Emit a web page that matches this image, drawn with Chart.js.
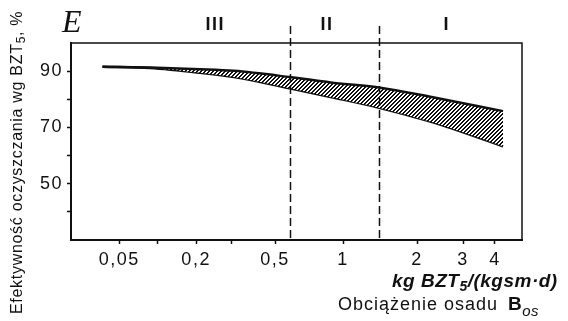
<!DOCTYPE html>
<html>
<head>
<meta charset="utf-8">
<script src="https://cdn.jsdelivr.net/npm/chart.js@4/dist/chart.umd.min.js"></script>
<style>
  html, body { margin: 0; padding: 0; background: #fff; }
  #wrap { width: 568px; height: 321px; position: relative; }
</style>
</head>
<body>
<div id="wrap"><canvas id="chart"></canvas></div>
<script>
// sludge load, kg BZT5 / (kg sm * d)
const loadKg = [0.037, 0.087, 0.21, 0.31, 0.58, 0.88, 1.4, 2.3, 4.3];
// efficiency band, %
const effUpper = [91.6, 91.3, 90.7, 90.1, 87.9, 86.0, 84.2, 80.7, 75.8];
const effLower = [91.6, 91.1, 89.4, 87.9, 83.9, 80.8, 77.0, 71.8, 63.3];

const xTickValues = [0.05, 0.2, 0.5, 1, 2, 3, 4];
const xTickLabels = ['0,05', '0,2', '0,5', '1', '2', '3', '4'];
const xMinorTicks = [0.1, 0.3];
const yTickValues = [50, 70, 90];
const yMinorTicks = [40, 60, 80];

const zoneBounds = [0.58, 1.4];
const zoneNames = ['III', 'II', 'I'];
const zoneLabelAt = [0.25, 0.85, 2.6];

const INK = '#111';
const SANS = '"Liberation Sans", Arial, sans-serif';

// the printed axis is not a true log axis: the labelled loads sit at
// these slots along it, log-linear in between (and beyond the ends)
const xSlots = [0, 77, 156, 224, 298, 344, 376];

class SlotLogScale extends Chart.Scale {
  static id = 'slotlog';
  static defaults = {};

  determineDataLimits() {
    this.min = this.options.min;
    this.max = this.options.max;
  }
  buildTicks() {
    return [...xTickValues, ...xMinorTicks].sort((a, b) => a - b).map(v => ({ value: v }));
  }
  getLabelForValue(v) {
    return String(v);
  }
  slot(v) {
    const a = xTickValues.map(Math.log10);
    const lv = Math.log10(v);
    let i = 0;
    while (i < a.length - 2 && lv > a[i + 1]) i++;
    const t = (lv - a[i]) / (a[i + 1] - a[i]);
    return xSlots[i] + t * (xSlots[i + 1] - xSlots[i]);
  }
  getPixelForValue(v) {
    const s0 = this.slot(this.min), s1 = this.slot(this.max);
    return this.getPixelForDecimal((this.slot(v) - s0) / (s1 - s0));
  }
  getPixelForTick(i) {
    return this.getPixelForValue(this.ticks[i].value);
  }
  getValueForPixel(px) {
    // bisection in log space, good enough for an axis that is only drawn
    let lo = Math.log10(this.min), hi = Math.log10(this.max);
    for (let k = 0; k < 40; k++) {
      const mid = (lo + hi) / 2;
      if (this.getPixelForValue(Math.pow(10, mid)) < px) lo = mid; else hi = mid;
    }
    return Math.pow(10, lo);
  }
}
Chart.register(SlotLogScale);

function hatch() {
  const c = document.createElement('canvas');
  c.width = 4; c.height = 4;
  const g = c.getContext('2d');
  g.fillStyle = '#fff';
  g.fillRect(0, 0, 4, 4);
  g.fillStyle = INK;
  for (let y = 0; y < 4; y++) {
    g.fillRect((3 - y + 4) % 4, y, 1, 1);
    g.fillRect((4 - y) % 4, y, 1, 1);
  }
  return g.createPattern(c, 'repeat');
}

// draws text pieces one after another: [text, font, dy]
function runs(ctx, parts, x, y, spacing) {
  ctx.letterSpacing = spacing || '0px';
  for (const [text, font, dy] of parts) {
    ctx.font = font;
    ctx.fillText(text, x, y + (dy || 0));
    x += ctx.measureText(text).width;
  }
  ctx.letterSpacing = '0px';
}

const frame = {
  id: 'frame',
  beforeDraw(chart) {
    chart.ctx.letterSpacing = '1.5px';
  },
  afterDatasetsDraw(chart) {
    const { ctx, chartArea: a, scales } = chart;
    ctx.save();
    ctx.letterSpacing = '0px';
    ctx.strokeStyle = INK;
    ctx.lineWidth = 1.5;
    ctx.strokeRect(a.left, a.top, a.right - a.left, a.bottom - a.top);

    ctx.setLineDash([8, 4]);
    ctx.lineWidth = 1.5;
    zoneBounds.forEach(v => {
      const x = Math.round(scales.x.getPixelForValue(v)) + 0.5;
      ctx.beginPath();
      ctx.moveTo(x, a.top - 17);
      ctx.lineTo(x, a.bottom);
      ctx.stroke();
    });
    ctx.setLineDash([]);

    ctx.fillStyle = INK;
    ctx.textAlign = 'center';
    ctx.textBaseline = 'middle';
    ctx.font = 'bold 18px ' + SANS;
    ctx.letterSpacing = '1.5px';
    zoneNames.forEach((n, i) => {
      ctx.fillText(n, scales.x.getPixelForValue(zoneLabelAt[i]), 25);
    });
    ctx.restore();
  },
  afterDraw(chart) {
    const ctx = chart.ctx;
    ctx.save();
    ctx.letterSpacing = '0px';
    ctx.fillStyle = INK;
    ctx.textAlign = 'left';
    ctx.textBaseline = 'alphabetic';

    ctx.font = 'italic 32px "Liberation Serif", serif';
    ctx.fillText('E', 62, 32);

    ctx.save();
    ctx.translate(22, 314);
    ctx.rotate(-Math.PI / 2);
    runs(ctx, [
      ['Efektywność oczyszczania wg BZT', '16px ' + SANS],
      ['5', '12px ' + SANS, 3],
      [', %', '16px ' + SANS]
    ], 0, 0, '0.7px');
    ctx.restore();

    runs(ctx, [
      ['kg BZT', 'bold italic 19px ' + SANS],
      ['5', 'bold italic 14px ' + SANS, 4],
      ['/(kgsm·d)', 'bold italic 19px ' + SANS]
    ], 392, 287, '0.5px');

    runs(ctx, [['Obciążenie osadu', '18px ' + SANS]], 338, 310, '1px');
    runs(ctx, [
      ['B', 'bold 19px ' + SANS],
      ['os', 'italic 15px ' + SANS, 6]
    ], 508, 310, '0.5px');
    ctx.restore();
  }
};

new Chart(document.getElementById('chart'), {
  type: 'line',
  data: {
    datasets: [
      {
        data: loadKg.map((x, i) => ({ x, y: effUpper[i] })),
        borderColor: INK,
        borderWidth: 2.5,
        backgroundColor: hatch(),
        fill: '+1',
        pointRadius: 0,
        cubicInterpolationMode: 'monotone'
      },
      {
        data: loadKg.map((x, i) => ({ x, y: effLower[i] })),
        borderColor: INK,
        borderWidth: 2.5,
        fill: false,
        pointRadius: 0,
        cubicInterpolationMode: 'monotone'
      }
    ]
  },
  options: {
    responsive: true,
    maintainAspectRatio: false,
    animation: false,
    events: [],
    layout: { padding: { top: 43, right: 46, left: 0, bottom: 0 } },
    plugins: {
      legend: { display: false },
      tooltip: { enabled: false }
    },
    scales: {
      x: {
        type: 'slotlog',
        position: 'bottom',
        min: 0.021,
        max: 5.1,
        afterFit: s => { s.height = 81; },
        border: { display: true, width: 2, color: INK },
        grid: { display: true, drawOnChartArea: false, drawTicks: true, tickLength: 4, tickWidth: 1.5, color: INK },
        ticks: {
          autoSkip: false,
          maxRotation: 0,
          padding: 5,
          color: INK,
          font: { family: SANS, size: 18 },
          callback: v => {
            const i = xTickValues.indexOf(v);
            return i < 0 ? '' : xTickLabels[i];
          }
        }
      },
      y: {
        type: 'linear',
        min: 30,
        max: 100,
        afterFit: s => { s.width = 71; },
        afterBuildTicks: s => {
          s.ticks = [...yMinorTicks, ...yTickValues].sort((a, b) => a - b).map(v => ({ value: v }));
        },
        border: { display: true, width: 2, color: INK },
        grid: { display: true, drawOnChartArea: false, drawTicks: true, tickLength: 4, tickWidth: 1.5, color: INK },
        ticks: {
          padding: 4,
          color: INK,
          font: { family: SANS, size: 18 },
          callback: v => (yTickValues.includes(v) ? String(v) : '')
        }
      }
    }
  },
  plugins: [frame]
});
</script>
</body>
</html>
